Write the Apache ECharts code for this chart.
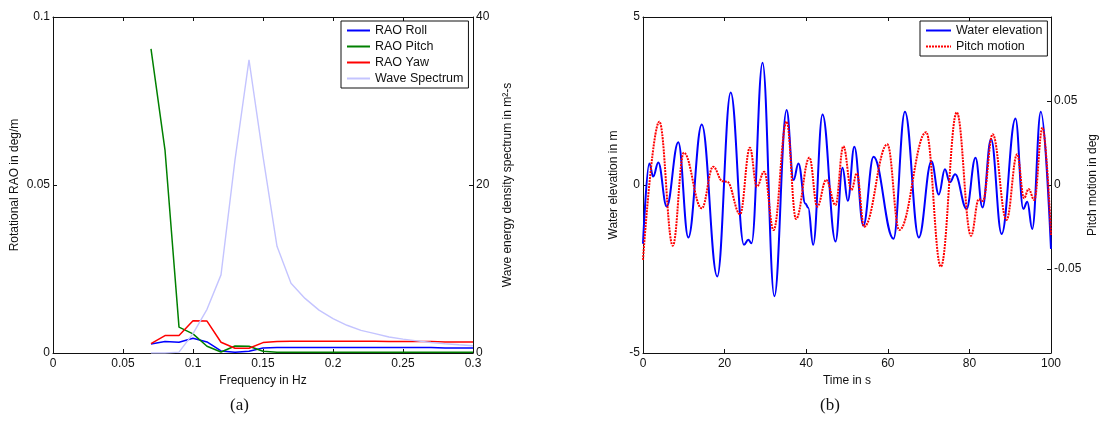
<!DOCTYPE html>
<html>
<head>
<meta charset="utf-8">
<script src="https://cdn.jsdelivr.net/npm/echarts@6/dist/echarts.min.js"></script>
<style>
  html, body { margin: 0; padding: 0; background: #fff; }
  #chart { width: 1103px; height: 424px; }
</style>
</head>
<body>
<div id="chart"></div>
<script>
// ---- (a) RAOs and wave spectrum vs frequency ----
const freqHz = [0.07, 0.08, 0.09, 0.10, 0.11, 0.12, 0.13, 0.14, 0.15, 0.16, 0.17, 0.18,
                0.19, 0.20, 0.21, 0.22, 0.23, 0.24, 0.25, 0.26, 0.27, 0.28, 0.29, 0.30];
const raoRoll  = [0.0027, 0.0034, 0.0032, 0.0044, 0.0033, 0.0006, 0.0002, 0.0005, 0.0015, 0.0016, 0.0016, 0.0016,
                  0.0016, 0.0016, 0.0016, 0.0016, 0.0016, 0.0016, 0.0016, 0.0016, 0.0016, 0.0015, 0.0015, 0.0015];
const raoPitch = [0.0905, 0.0604, 0.0077, 0.0057, 0.0020, 0.0003, 0.0021, 0.0020, 0.0005, 0.0002, 0.0002, 0.0002,
                  0.0002, 0.0002, 0.0002, 0.0002, 0.0002, 0.0002, 0.0002, 0.0002, 0.0002, 0.0002, 0.0002, 0.0002];
const raoYaw   = [0.0028, 0.0052, 0.0052, 0.0096, 0.0095, 0.0032, 0.0014, 0.0014, 0.0031, 0.0034, 0.0035, 0.0035,
                  0.0035, 0.0035, 0.0035, 0.0035, 0.0035, 0.0034, 0.0034, 0.0034, 0.0034, 0.0033, 0.0033, 0.0033];
const waveSpectrum = [0, 0, 0.1, 2.3, 5.2, 9.3, 23.0, 34.9, 23.4, 12.7, 8.3, 6.5,
                      5.1, 4.1, 3.3, 2.7, 2.3, 1.9, 1.65, 1.45, 1.25, 1.1, 0.98, 0.87];

// ---- (b) time series: turning points [time s, value] ----
const waterElevation = [
  [0, -1.75], [1.55, 0.64], [2.5, 0.25], [3.75, 0.67], [5.8, -0.64], [8.65, 1.27], [11.1, -1.56],
  [14.4, 1.8], [18.2, -2.72], [21.5, 2.75], [24.75, -1.78], [25.8, -1.63], [26.6, -1.73],
  [29.3, 3.64], [32.2, -3.31], [35.2, 2.23], [36.9, 0.15], [38.1, 0.64], [39.8, -0.55], [40.5, -0.68],
  [41.7, -1.78], [44.0, 2.1], [47.2, -1.68], [48.9, 0.51], [50.2, -0.47], [51.8, 1.14], [54.0, -1.21],
  [56.5, 0.84], [61.4, -1.6], [64.2, 2.18], [67.6, -1.56], [70.7, 0.71], [72.5, -0.28], [74.0, 0.47],
  [75.2, 0.08], [76.5, 0.32], [79.3, -0.71], [81.5, 0.81], [83.2, -0.67], [85.3, 1.37], [87.9, -1.46],
  [91.3, 1.98], [93.2, -0.71], [94.2, -0.5], [95.4, -1.31], [97.5, 2.18], [100, -1.9]
];
const pitchMotion = [
  [0, -0.0446], [4.0, 0.0377], [7.3, -0.0361], [10.0, 0.0192], [14.4, -0.0139], [17.2, 0.0109],
  [19.5, 0.0022], [20.6, 0.002], [23.8, -0.0174], [26.2, 0.0222], [27.9, -0.001], [29.7, 0.0079],
  [32.0, -0.0268], [35.2, 0.0377], [37.5, -0.0202], [40.8, 0.0163], [42.7, -0.0129], [44.9, 0.003],
  [47.2, -0.0119], [49.1, 0.0231], [51.1, -0.003], [52.4, 0.007], [54.2, -0.0248], [59.9, 0.0242],
  [62.8, -0.0268], [69.4, 0.0314], [73.0, -0.0486], [76.9, 0.0432], [80.4, -0.0302], [82.3, -0.0085],
  [83.3, -0.0095], [85.7, 0.0302], [89.1, -0.0208], [91.7, 0.0183], [93.4, -0.0079], [94.5, -0.0024],
  [95.9, -0.0089], [97.9, 0.0341], [100, -0.0298]
];

const FONT = 'Liberation Sans, Arial, sans-serif';
const INK = '#111';

function baseAxis(extra) {
  return Object.assign({
    axisLine: { show: true, onZero: false, lineStyle: { color: INK, width: 1 } },
    axisTick: { show: true, inside: true, length: 4, lineStyle: { color: INK, width: 1 } },
    axisLabel: { color: INK, fontFamily: FONT, fontSize: 12, margin: 3 },
    splitLine: { show: false },
    nameTextStyle: { color: INK, fontFamily: FONT, fontSize: 12 },
    nameLocation: 'middle'
  }, extra);
}

function topAxis(gridIndex, min, max, interval) {
  return baseAxis({
    type: 'value', gridIndex, position: 'top', min, max, interval,
    axisLabel: { show: false }
  });
}

// legend boxes: line samples only, no markers
function legendBox(names, left, sampleWidth) {
  return {
    data: names,
    left, top: 21, orient: 'vertical', align: 'left',
    itemWidth: sampleWidth, itemHeight: 10, itemGap: 3,
    padding: [3, 5, 3, 5],
    borderColor: INK, borderWidth: 1, backgroundColor: '#fff',
    itemStyle: { opacity: 0 },
    textStyle: { color: INK, fontFamily: FONT, fontSize: 12.5 }
  };
}

const chart = echarts.init(document.getElementById('chart'), null, { renderer: 'canvas' });

const option = {
  backgroundColor: '#fff',
  animation: false,
  grid: [
    { left: 53, top: 17, width: 420, height: 336 },
    { left: 643, top: 17, width: 408, height: 336 }
  ],
  xAxis: [
    baseAxis({ type: 'value', gridIndex: 0, min: 0, max: 0.3, interval: 0.05,
               name: 'Frequency in Hz', nameGap: 20,
               axisLabel: { color: INK, fontFamily: FONT, fontSize: 12, margin: 5 } }),
    topAxis(0, 0, 0.3, 0.05),
    baseAxis({ type: 'value', gridIndex: 1, min: 0, max: 100, interval: 20,
               name: 'Time in s', nameGap: 20,
               axisLabel: { color: INK, fontFamily: FONT, fontSize: 12, margin: 5 } }),
    topAxis(1, 0, 100, 20)
  ],
  yAxis: [
    baseAxis({ type: 'value', gridIndex: 0, position: 'left', min: 0, max: 0.1, interval: 0.05,
               name: 'Rotational RAO in deg/m', nameGap: 32 }),
    baseAxis({ type: 'value', gridIndex: 0, position: 'right', min: 0, max: 40, interval: 20,
               name: 'Wave energy density spectrum in m²-s', nameGap: 29 }),
    baseAxis({ type: 'value', gridIndex: 1, position: 'left', min: -5, max: 5, interval: 5,
               name: 'Water elevation in m', nameGap: 23 }),
    baseAxis({ type: 'value', gridIndex: 1, position: 'right', min: -0.1, max: 0.1, interval: 0.05,
               name: 'Pitch motion in deg', nameGap: 36,
               axisLabel: { color: INK, fontFamily: FONT, fontSize: 12, margin: 3,
                            formatter: v => (Math.abs(v) > 0.09 ? '' : String(+v.toFixed(2))) } })
  ],
  legend: [
    legendBox(['RAO Roll', 'RAO Pitch', 'RAO Yaw', 'Wave Spectrum'], 341, 23),
    legendBox(['Water elevation', 'Pitch motion'], 920, 25)
  ],
  graphic: [
    { type: 'text', left: 230, top: 397,
      style: { text: '(a)', font: '17px "Liberation Serif", "Times New Roman", serif', fill: INK } },
    { type: 'text', left: 820, top: 397,
      style: { text: '(b)', font: '17px "Liberation Serif", "Times New Roman", serif', fill: INK } }
  ],
  series: [
    { name: 'RAO Roll', type: 'line', xAxisIndex: 0, yAxisIndex: 0, symbol: 'none',
      data: freqHz.map((f, i) => [f, raoRoll[i]]),
      lineStyle: { color: '#0000ff', width: 1.5 }, itemStyle: { color: '#0000ff' } },
    { name: 'RAO Pitch', type: 'line', xAxisIndex: 0, yAxisIndex: 0, symbol: 'none',
      data: freqHz.map((f, i) => [f, raoPitch[i]]),
      lineStyle: { color: '#008000', width: 1.5 }, itemStyle: { color: '#008000' } },
    { name: 'RAO Yaw', type: 'line', xAxisIndex: 0, yAxisIndex: 0, symbol: 'none',
      data: freqHz.map((f, i) => [f, raoYaw[i]]),
      lineStyle: { color: '#ff0000', width: 1.5 }, itemStyle: { color: '#ff0000' } },
    { name: 'Wave Spectrum', type: 'line', xAxisIndex: 0, yAxisIndex: 1, symbol: 'none',
      data: freqHz.map((f, i) => [f, waveSpectrum[i]]),
      lineStyle: { color: '#c4c4ff', width: 1.4 }, itemStyle: { color: '#c4c4ff' } },
    { name: 'Water elevation', type: 'line', xAxisIndex: 2, yAxisIndex: 2, symbol: 'none',
      smooth: 0.4, smoothMonotone: 'x', data: waterElevation,
      lineStyle: { color: '#0000ff', width: 2 }, itemStyle: { color: '#0000ff' } },
    { name: 'Pitch motion', type: 'line', xAxisIndex: 2, yAxisIndex: 3, symbol: 'none',
      smooth: 0.4, smoothMonotone: 'x', data: pitchMotion,
      lineStyle: { color: '#ff0000', width: 2, type: [2, 1] }, itemStyle: { color: '#ff0000' } }
  ]
};

chart.setOption(option);
</script>
</body>
</html>
